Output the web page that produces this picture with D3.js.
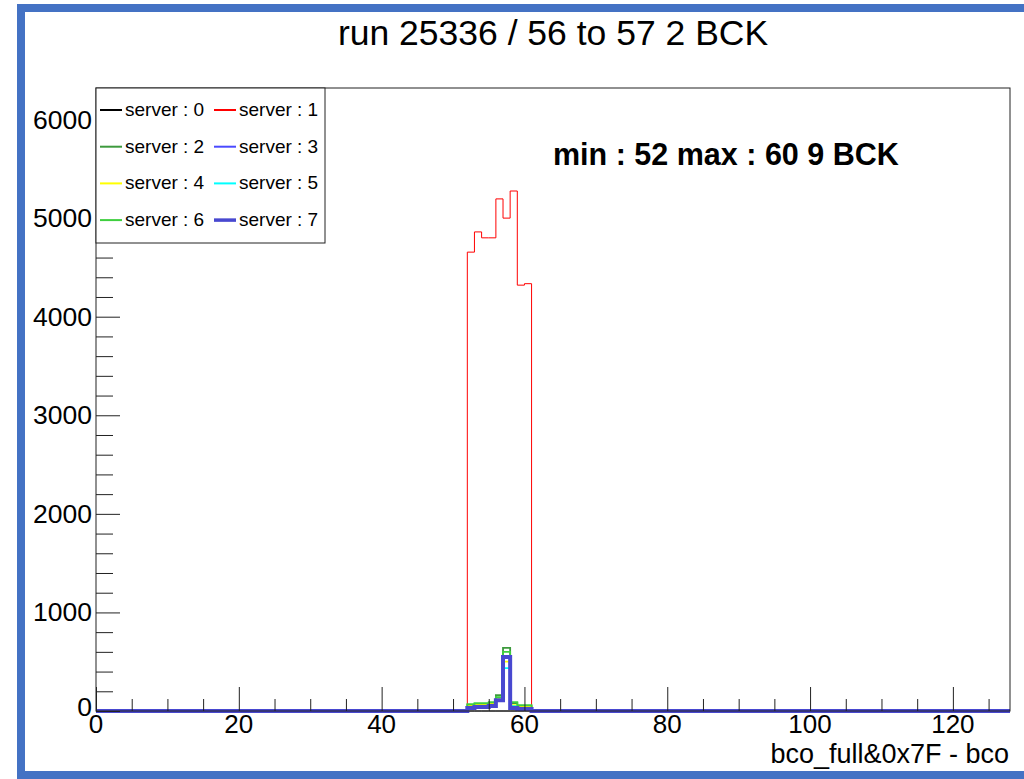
<!DOCTYPE html>
<html>
<head>
<meta charset="utf-8">
<script src="https://cdn.jsdelivr.net/npm/d3@7"></script>
<style>
  body { margin: 0; background: #fff; }
  svg { display: block; font-family: "Liberation Sans", Arial, sans-serif; }
</style>
</head>
<body>
<div id="root"></div>
<script>
// histogram data: 128 bins of width 1, only bins 52..60 are filled
var nBins = 128;
var filledBins = [52, 53, 54, 55, 56, 57, 58, 59, 60];
var server0 = [0, 0, 0, 0, 0, 0, 0, 0, 0];
var server1 = [4655, 4860, 4800, 4800, 5195, 5000, 5275, 4320, 4335];
var server2 = [60, 70, 70, 80, 160, 640, 80, 50, 50];
var server3 = [30, 40, 40, 50, 110, 560, 30, 20, 20];
var server4 = [50, 60, 60, 70, 120, 500, 60, 40, 40];
var server5 = [40, 50, 50, 60, 100, 435, 50, 30, 30];
var server6 = [70, 80, 80, 90, 140, 600, 90, 60, 60];
var server7 = [30, 40, 40, 50, 110, 548, 30, 20, 20];

var seriesNames = ["server : 0", "server : 1", "server : 2", "server : 3",
                   "server : 4", "server : 5", "server : 6", "server : 7"];
var seriesValues = [server0, server1, server2, server3, server4, server5, server6, server7];
var seriesColors = ["#000000", "#ff0000", "#3d9a3d", "#4a4aff",
                    "#ffff00", "#00ffff", "#3fcf3f", "#4848d0"];
var seriesWidths = [1, 1, 1.8, 1.2, 1.8, 1.8, 1.8, 4];

var xTicksMajor = [0, 20, 40, 60, 80, 100, 120];
var yTicksMajor = [0, 1000, 2000, 3000, 4000, 5000, 6000];

var titleText = "run 25336 / 56 to 57 2 BCK";
var statText = "min : 52 max : 60 9 BCK";
var xTitle = "bco_full&0x7F - bco";

// page layout
var W = 1024, H = 779;
var frame = {left: 96, right: 1010, top: 88, bottom: 711};

var svg = d3.select("#root")
            .append("svg")
            .attr("width", W)
            .attr("height", H);

// blue border of the screenshot
svg.append("rect").attr("x", 17).attr("y", 4).attr("width", W - 17).attr("height", 8).attr("fill", "#4472c4");
svg.append("rect").attr("x", 17).attr("y", 4).attr("width", 8).attr("height", H - 4).attr("fill", "#4472c4");
svg.append("rect").attr("x", 17).attr("y", 771).attr("width", W - 17).attr("height", 8).attr("fill", "#4472c4");

var x = d3.scaleLinear().domain([0, nBins]).range([frame.left, frame.right]);
var y = d3.scaleLinear().domain([0, 6320]).range([frame.bottom, frame.top]);

// title
svg.append("text")
  .attr("x", 553).attr("y", 45)
  .attr("text-anchor", "middle")
  .style("font-size", "35.5px")
  .text(titleText);

// histograms (full 128-bin outline, zeros outside the filled bins)
function binContents(vals) {
  var arr = new Array(nBins).fill(0);
  filledBins.forEach(function (b, i) { arr[b] = vals[i]; });
  return arr;
}
var line = d3.line()
  .x(function (d) { return x(d[0]); })
  .y(function (d) { return y(d[1]); });

var plot = svg.append("g");
seriesValues.forEach(function (vals, s) {
  var c = binContents(vals);
  var pts = [];
  c.forEach(function (v, i) { pts.push([i, v]); pts.push([i + 1, v]); });
  plot.append("path")
    .attr("d", line(pts))
    .attr("fill", "none")
    .attr("stroke", seriesColors[s])
    .attr("stroke-width", seriesWidths[s]);
});

// frame
svg.append("rect")
  .attr("x", frame.left).attr("y", frame.top)
  .attr("width", frame.right - frame.left).attr("height", frame.bottom - frame.top)
  .attr("fill", "none").attr("stroke", "#222").attr("stroke-width", 1);

// x axis ticks (ROOT style, inside the frame)
var xAxis = d3.axisTop(x).tickValues(d3.range(0, nBins + 1, 5))
  .tickSizeInner(12).tickSizeOuter(0).tickFormat("");
var gx = svg.append("g").attr("transform", "translate(0," + frame.bottom + ")").call(xAxis);
gx.select(".domain").remove();
gx.selectAll(".tick line")
  .attr("y2", function (d) { return d % 20 === 0 ? -24 : -12; })
  .attr("stroke", "#222");
svg.append("g").selectAll("text")
  .data(xTicksMajor)
  .enter()
  .append("text")
    .attr("x", function (d) { return x(d); })
    .attr("y", 733)
    .attr("text-anchor", "middle")
    .style("font-size", "26px")
    .text(function (d) { return d; });

// y axis ticks
var yAxis = d3.axisRight(y).tickValues(d3.range(0, 6201, 200))
  .tickSizeInner(17).tickSizeOuter(0).tickFormat("");
var gy = svg.append("g").attr("transform", "translate(" + frame.left + ",0)").call(yAxis);
gy.select(".domain").remove();
gy.selectAll(".tick line")
  .attr("x2", function (d) { return d % 1000 === 0 ? 24 : 17; })
  .attr("stroke", "#222");
svg.append("g").selectAll("text")
  .data(yTicksMajor)
  .enter()
  .append("text")
    .attr("x", 92)
    .attr("y", function (d) { return d === 0 ? y(d) + 5 : y(d) + 9; })
    .attr("text-anchor", "end")
    .style("font-size", "26.5px")
    .text(function (d) { return d; });

// axis title
svg.append("text")
  .attr("x", 1009).attr("y", 763)
  .attr("text-anchor", "end")
  .style("font-size", "27px")
  .text(xTitle);

// stats label
svg.append("text")
  .attr("x", 553).attr("y", 165)
  .style("font-size", "30.5px")
  .style("font-weight", "bold")
  .text(statText);

// legend
var leg = svg.append("g");
leg.append("rect")
  .attr("x", frame.left).attr("y", frame.top)
  .attr("width", 229).attr("height", 155)
  .attr("fill", "#fff").attr("stroke", "#222").attr("stroke-width", 1);
seriesNames.forEach(function (name, s) {
  var col = s % 2, row = Math.floor(s / 2);
  var lx = col === 0 ? 100 : 214;
  var ly = 110 + row * 36.7;
  leg.append("line")
    .attr("x1", lx).attr("x2", lx + 22)
    .attr("y1", ly).attr("y2", ly)
    .attr("stroke", seriesColors[s])
    .attr("stroke-width", s === 7 ? 3.5 : 2);
  leg.append("text")
    .attr("x", lx + 25).attr("y", ly + 6)
    .style("font-size", "19px")
    .text(name);
});
</script>
</body>
</html>
